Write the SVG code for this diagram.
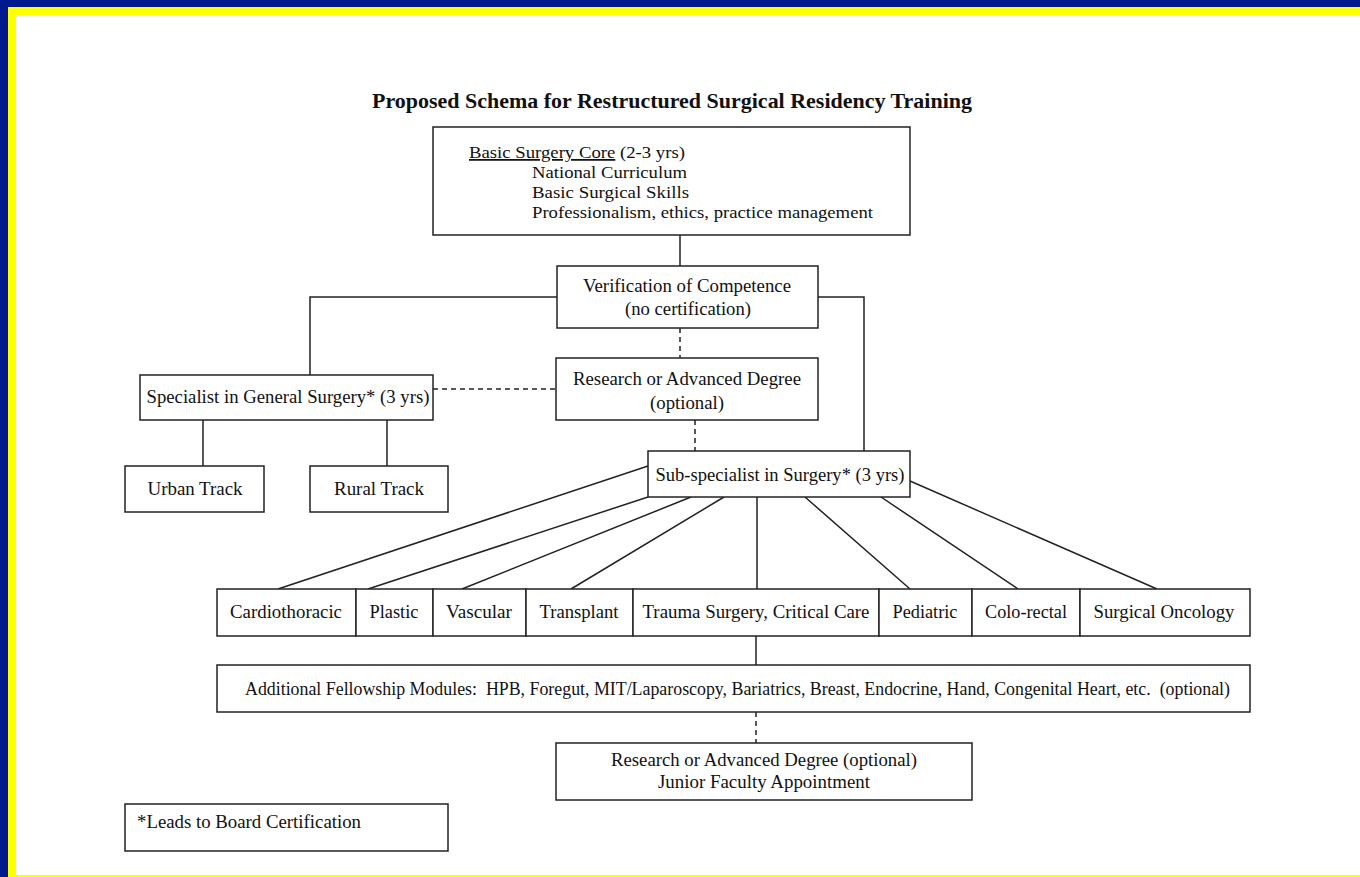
<svg xmlns="http://www.w3.org/2000/svg" width="1360" height="877" viewBox="0 0 1360 877">
<style>
.box{fill:#fff;stroke:#222;stroke-width:1.5}
.t{font-family:"Liberation Serif","Times New Roman",serif;font-size:18.5px;fill:#111}
.s{font-size:17.5px}
.c{text-anchor:middle}
.ln{fill:none;stroke:#222;stroke-width:1.5}
.ds{fill:none;stroke:#222;stroke-width:1.5;stroke-dasharray:5,4}
</style>
<rect x="0" y="0" width="1360" height="877" fill="#00198c"/>
<rect x="8" y="7" width="1352" height="870" fill="#ffff00"/>
<rect x="16" y="15" width="1344" height="860" fill="#ffffff"/>
<text x="672" y="108" class="t c" style="font-weight:bold;font-size:21px" textLength="600" lengthAdjust="spacingAndGlyphs">Proposed Schema for Restructured Surgical Residency Training</text>
<g id="connectors">
<path class="ln" d="M680 235V266"/>
<path class="ln" d="M557 297H310V375"/>
<path class="ln" d="M818 297H864V451"/>
<path class="ds" d="M680 328V358"/>
<path class="ds" d="M433 389H556"/>
<path class="ln" d="M203 420V466M387 420V466"/>
<path class="ds" d="M695 420V451"/>
<path class="ln" d="M648 466L278 589M648 497L368 589M691 497L462 589M724 497L571 589M757 497V589M805 497L910 589M881 497L1018 589M910 481L1157 589"/>
<path class="ln" d="M756 636V665"/>
<path class="ds" d="M756 712V743"/>
</g>
<g id="core">
<rect class="box" x="433" y="127" width="477" height="108"/>
<text x="469" y="158" class="t s" textLength="216" lengthAdjust="spacingAndGlyphs"><tspan text-decoration="underline">Basic Surgery Core</tspan> (2-3 yrs)</text>
<text x="532" y="178" class="t s" textLength="155" lengthAdjust="spacingAndGlyphs">National Curriculum</text>
<text x="532" y="198" class="t s" textLength="157" lengthAdjust="spacingAndGlyphs">Basic Surgical Skills</text>
<text x="532" y="218" class="t s" textLength="341" lengthAdjust="spacingAndGlyphs">Professionalism, ethics, practice management</text>
</g>
<g id="verification">
<rect class="box" x="557" y="266" width="261" height="62"/>
<text x="687" y="292" class="t c" textLength="208" lengthAdjust="spacingAndGlyphs">Verification of Competence</text>
<text x="688" y="315" class="t c" textLength="126" lengthAdjust="spacingAndGlyphs">(no certification)</text>
</g>
<g id="research1">
<rect class="box" x="556" y="358" width="262" height="62"/>
<text x="687" y="385" class="t c" textLength="228" lengthAdjust="spacingAndGlyphs">Research or Advanced Degree</text>
<text x="687" y="409" class="t c" textLength="74" lengthAdjust="spacingAndGlyphs">(optional)</text>
</g>
<g id="specialist">
<rect class="box" x="140" y="375" width="293" height="45"/>
<text x="288" y="403" class="t c" textLength="283" lengthAdjust="spacingAndGlyphs">Specialist in General Surgery* (3 yrs)</text>
</g>
<g id="urban">
<rect class="box" x="125" y="466" width="139" height="46"/>
<text x="195" y="495" class="t c" textLength="95" lengthAdjust="spacingAndGlyphs">Urban Track</text>
</g>
<g id="rural">
<rect class="box" x="310" y="466" width="138" height="46"/>
<text x="379" y="495" class="t c" textLength="90" lengthAdjust="spacingAndGlyphs">Rural Track</text>
</g>
<g id="subspecialist">
<rect class="box" x="648" y="451" width="262" height="46"/>
<text x="780" y="481" class="t c" textLength="249" lengthAdjust="spacingAndGlyphs">Sub-specialist in Surgery* (3 yrs)</text>
</g>
<g id="cardiothoracic">
<rect class="box" x="217" y="589" width="139" height="47"/>
<text x="286" y="618" class="t c" textLength="112" lengthAdjust="spacingAndGlyphs">Cardiothoracic</text>
</g>
<g id="plastic">
<rect class="box" x="356" y="589" width="77" height="47"/>
<text x="394" y="618" class="t c" textLength="49" lengthAdjust="spacingAndGlyphs">Plastic</text>
</g>
<g id="vascular">
<rect class="box" x="433" y="589" width="93" height="47"/>
<text x="479" y="618" class="t c" textLength="66" lengthAdjust="spacingAndGlyphs">Vascular</text>
</g>
<g id="transplant">
<rect class="box" x="526" y="589" width="107" height="47"/>
<text x="579" y="618" class="t c" textLength="79" lengthAdjust="spacingAndGlyphs">Transplant</text>
</g>
<g id="trauma">
<rect class="box" x="633" y="589" width="246" height="47"/>
<text x="756" y="618" class="t c" textLength="227" lengthAdjust="spacingAndGlyphs">Trauma Surgery, Critical Care</text>
</g>
<g id="pediatric">
<rect class="box" x="879" y="589" width="93" height="47"/>
<text x="925" y="618" class="t c" textLength="65" lengthAdjust="spacingAndGlyphs">Pediatric</text>
</g>
<g id="colorectal">
<rect class="box" x="972" y="589" width="108" height="47"/>
<text x="1026" y="618" class="t c" textLength="82" lengthAdjust="spacingAndGlyphs">Colo-rectal</text>
</g>
<g id="oncology">
<rect class="box" x="1080" y="589" width="170" height="47"/>
<text x="1164" y="618" class="t c" textLength="141" lengthAdjust="spacingAndGlyphs">Surgical Oncology</text>
</g>
<g id="fellowship">
<rect class="box" x="217" y="665" width="1033" height="47"/>
<text x="245" y="695" class="t" style="white-space:pre" textLength="985" lengthAdjust="spacingAndGlyphs">Additional Fellowship Modules:  HPB, Foregut, MIT/Laparoscopy, Bariatrics, Breast, Endocrine, Hand, Congenital Heart, etc.  (optional)</text>
</g>
<g id="research2">
<rect class="box" x="556" y="743" width="416" height="57"/>
<text x="764" y="766" class="t c" textLength="306" lengthAdjust="spacingAndGlyphs">Research or Advanced Degree (optional)</text>
<text x="764" y="788" class="t c" textLength="212" lengthAdjust="spacingAndGlyphs">Junior Faculty Appointment</text>
</g>
<g id="legend">
<rect class="box" x="125" y="804" width="323" height="47"/>
<text x="137" y="828" class="t" textLength="224" lengthAdjust="spacingAndGlyphs">*Leads to Board Certification</text>
</g>
</svg>
